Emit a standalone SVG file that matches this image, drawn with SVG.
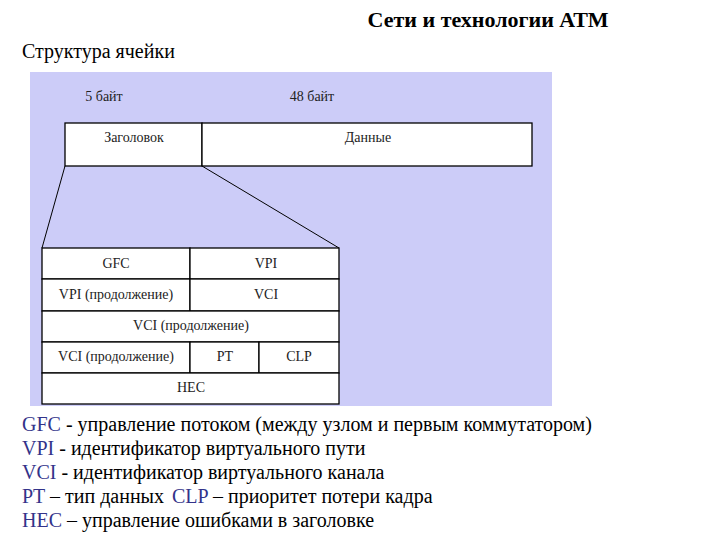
<svg xmlns="http://www.w3.org/2000/svg" width="720" height="540" viewBox="0 0 720 540">
<style>
text{font-family:"Liberation Serif","Times New Roman",serif;fill:#000}
.s{font-size:14px;text-anchor:middle;fill:#222}
.c{fill:#fff;stroke:#000;stroke-width:1.3}
.l{font-size:20px}
.b{fill:#33338a}
</style>
<rect width="720" height="540" fill="#fff"/>
<text x="488" y="27" font-size="22" font-weight="bold" text-anchor="middle">Сети и технологии АТМ</text>
<text x="22" y="58" font-size="20">Структура ячейки</text>
<rect x="30" y="72" width="522" height="334" fill="#ccccf8"/>
<text x="104" y="101" class="s">5 байт</text>
<text x="312" y="101" class="s">48 байт</text>
<g id="header"><rect class="c" x="65" y="123" width="137" height="43"/><text x="134" y="142" class="s">Заголовок</text></g>
<g id="data"><rect class="c" x="202" y="123" width="330" height="43"/><text x="368" y="142" class="s">Данные</text></g>
<g id="connectors" stroke="#000" stroke-width="1"><line x1="65" y1="166" x2="42" y2="248"/><line x1="202" y1="166" x2="339" y2="248"/></g>
<g id="gfc"><rect class="c" x="42" y="248" width="148" height="31"/><text x="116" y="268" class="s">GFC</text></g>
<g id="vpi"><rect class="c" x="190" y="248" width="149" height="31"/><text x="266" y="268" class="s">VPI</text></g>
<g id="vpi2"><rect class="c" x="42" y="279" width="148" height="32"/><text x="116" y="299" class="s">VPI (продолжение)</text></g>
<g id="vci"><rect class="c" x="190" y="279" width="149" height="32"/><text x="266" y="299" class="s">VCI</text></g>
<g id="vci2"><rect class="c" x="42" y="311" width="297" height="31"/><text x="191" y="330" class="s">VCI (продолжение)</text></g>
<g id="vci3"><rect class="c" x="42" y="342" width="148" height="31"/><text x="116" y="361" class="s">VCI (продолжение)</text></g>
<g id="pt"><rect class="c" x="190" y="342" width="69" height="31"/><text x="225" y="361" class="s">PT</text></g>
<g id="clp"><rect class="c" x="259" y="342" width="80" height="31"/><text x="299" y="361" class="s">CLP</text></g>
<g id="hec"><rect class="c" x="42" y="373" width="297" height="31"/><text x="191" y="392" class="s">HEC</text></g>
<text x="22" y="431" class="l"><tspan class="b">GFC</tspan> - управление потоком (между узлом и первым коммутатором)</text>
<text x="22" y="455" class="l"><tspan class="b">VPI</tspan> - идентификатор виртуального пути</text>
<text x="22" y="479" class="l"><tspan class="b">VCI</tspan> - идентификатор виртуального канала</text>
<text x="22" y="503" class="l"><tspan class="b">PT</tspan> – тип данных <tspan class="b" x="172">CLP</tspan> – приоритет потери кадра</text>
<text x="22" y="527" class="l"><tspan class="b">HEC</tspan> – управление ошибками в заголовке</text>
</svg>
